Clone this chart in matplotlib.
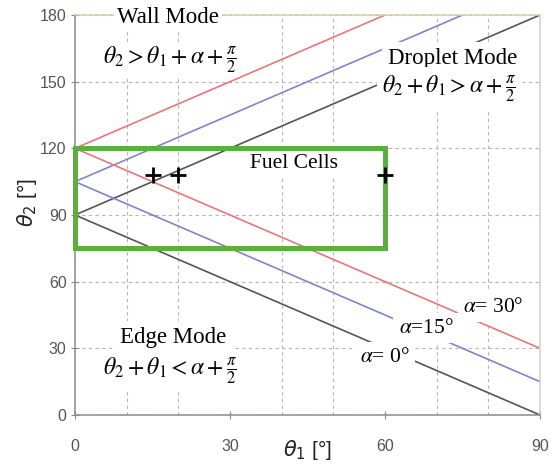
import matplotlib
matplotlib.use('Agg')
import matplotlib.pyplot as plt
from matplotlib.patches import Rectangle

# contact angle limits for each alpha (degrees)
alphas = [0, 15, 30]
line_colors = ['#555555', '#7d86cc', '#e8777a']
theta1_range = [0, 90]

# fuel cell window and measured points
cell_theta1 = [0, 60]
cell_theta2 = [75, 120]
pts_theta1 = [15, 20, 60]
pts_theta2 = [108, 108, 108]

serif = 'Liberation Serif'
sans = 'Liberation Sans'

fig = plt.figure(figsize=(5.52, 4.65), dpi=100)
ax = fig.add_axes([75/552, 1 - 415/465, 465/552, 400/465])

for a, c in zip(alphas, line_colors):
    # wall / droplet boundary: theta2 = theta1 + alpha + 90
    x_up = [theta1_range[0], 90 - a]
    y_up = [t + a + 90 for t in x_up]
    ax.plot(x_up, y_up, color=c, lw=1.2, zorder=2)
    # droplet / edge boundary: theta2 = alpha + 90 - theta1
    x_dn = theta1_range
    y_dn = [a + 90 - t for t in x_dn]
    ax.plot(x_dn, y_dn, color=c, lw=1.2, zorder=2)

ax.add_patch(Rectangle((cell_theta1[0], cell_theta2[0]), cell_theta1[1] - cell_theta1[0],
                       cell_theta2[1] - cell_theta2[0], fill=False, ec='#5cae3e', lw=3.6,
                       zorder=3, clip_on=False))
ax.plot(pts_theta1, pts_theta2, ls='none', marker='+', ms=11, mew=2, color='black', zorder=5)

def label(x, y, s, size=16.5, pad=0.25):
    box = dict(boxstyle='square,pad=%s' % pad, fc='white', ec='none')
    ax.text(x, y, s, ha='center', va='center', fontsize=size, family=serif,
            math_fontfamily='stix', bbox=box, zorder=4, clip_on=False)

label(18, 179, 'Wall Mode', pad=0.15)
label(18.5, 160, r'$\theta_2 > \theta_1 + \alpha + \frac{\pi}{2}$', size=17, pad=0.1)
label(73, 160.5, 'Droplet Mode')
label(72.5, 147, r'$\theta_2 + \theta_1 > \alpha + \frac{\pi}{2}$', size=17)
label(19, 35, 'Edge Mode')
label(18.5, 20, r'$\theta_2 + \theta_1 < \alpha + \frac{\pi}{2}$', size=17)
label(42.3, 113, 'Fuel Cells', size=15.5, pad=0.1)
label(81, 48.5, r'$\alpha$= 30°', size=15.5)
label(68, 39, r'$\alpha$=15°', size=15.5)
label(60, 26, r'$\alpha$= 0°', size=15.5)

ax.set_xlim(0, 90)
ax.set_ylim(0, 180)
ax.set_xticks([0, 30, 60, 90])
ax.set_yticks(range(0, 181, 30))
ax.set_xticks(range(0, 91, 10), minor=True)
ax.tick_params(axis='x', which='minor', length=0)
ax.grid(True, which='minor', axis='x', ls=(0, (3, 3)), color='#b5b5b5', lw=0.8)
ax.grid(True, which='major', axis='y', ls=(0, (3, 3)), color='#b5b5b5', lw=0.8)
ax.set_axisbelow(True)
ax.tick_params(axis='both', which='major', direction='inout', length=6, color='#888888',
               labelcolor='#555555', labelsize=11.5)
ax.tick_params(axis='x', pad=14)
ax.tick_params(axis='y', pad=3)
for t in ax.get_xticklabels() + ax.get_yticklabels():
    t.set_family(sans)

ax.spines['left'].set_color('#8a8a8a')
ax.spines['bottom'].set_color('#8a8a8a')
ax.spines['top'].set_color('#d6cfa6')
ax.spines['right'].set_color('#d0d0d0')
for s in ax.spines.values():
    s.set_linewidth(1.1)

ax.text(0.5, -0.088, r'$\theta_1$ [°]', transform=ax.transAxes, ha='center', va='center',
        fontsize=15, family=sans, math_fontfamily='dejavusans', color='#222222')
ax.text(-0.103, 0.53, r'$\theta_2$ [°]', transform=ax.transAxes, ha='center', va='center',
        rotation=90, fontsize=15, family=sans, math_fontfamily='dejavusans', color='#222222')

fig.savefig('out.png', dpi=100)
